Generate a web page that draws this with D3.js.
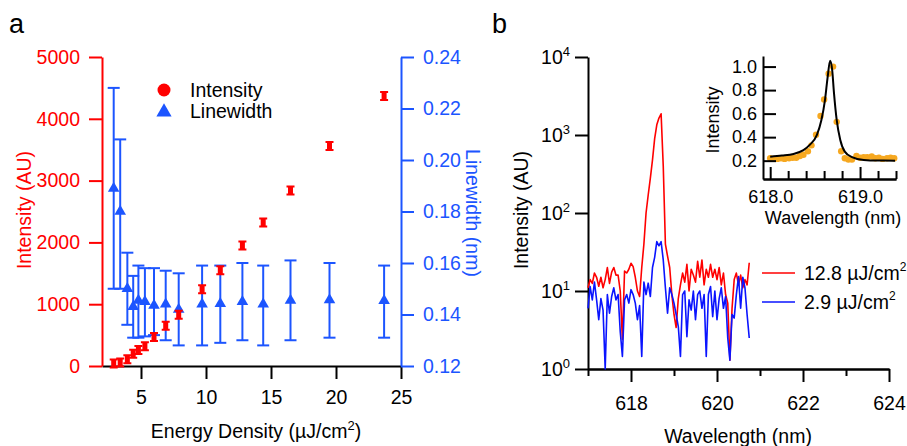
<!DOCTYPE html>
<html>
<head>
<meta charset="utf-8">
<script src="https://cdn.jsdelivr.net/npm/d3@7"></script>
<style>
  body { margin: 0; background: #fff; }
  svg { display: block; font-family: "Liberation Sans", Arial, sans-serif; }
</style>
</head>
<body>
<svg id="chart" width="907" height="446"></svg>
<script>
"use strict";

/* PANEL A DATA
 * =============================== */

var energy = [2.9, 3.4, 3.95, 4.4, 4.8, 5.3, 6.0, 6.9, 7.9, 9.7, 11.1, 12.8, 14.4, 16.5, 19.5, 23.7]
  , intensity = [40, 55, 110, 200, 260, 320, 470, 650, 830, 1240, 1550, 1950, 2320, 2840, 3560, 4370]
  , linewidth = [0.189, 0.180, 0.150, 0.143, 0.1455, 0.145, 0.1435, 0.144, 0.142, 0.144, 0.1442, 0.145, 0.144, 0.1455, 0.1457, 0.1454]
  , linewidthHigh = [0.228, 0.208, 0.164, 0.155, 0.159, 0.158, 0.158, 0.157, 0.156, 0.159, 0.159, 0.160, 0.159, 0.161, 0.160, 0.159]
  , linewidthLow = [0.150, 0.150, 0.136, 0.131, 0.131, 0.1315, 0.132, 0.130, 0.128, 0.128, 0.129, 0.130, 0.128, 0.130, 0.131, 0.131]
  , energyTicks = [5, 10, 15, 20, 25]
  , intensityTicks = [0, 1000, 2000, 3000, 4000, 5000]
  , linewidthTicks = [0.12, 0.14, 0.16, 0.18, 0.20, 0.22, 0.24]

/* PANEL B DATA
 * =============================== */

var wavelength = [617.00, 617.05, 617.10, 617.15, 617.20, 617.25, 617.30, 617.35, 617.40, 617.45,
                  617.50, 617.55, 617.60, 617.65, 617.70, 617.75, 617.80, 617.85, 617.90, 617.95,
                  618.00, 618.05, 618.10, 618.15, 618.20, 618.25, 618.30, 618.35, 618.40, 618.45,
                  618.50, 618.55, 618.60, 618.65, 618.70, 618.75, 618.80, 618.85, 618.90, 618.95,
                  619.00, 619.05, 619.10, 619.15, 619.20, 619.25, 619.30, 619.35, 619.40, 619.45,
                  619.50, 619.55, 619.60, 619.65, 619.70, 619.75, 619.80, 619.85, 619.90, 619.95,
                  620.00, 620.05, 620.10, 620.15, 620.20, 620.25, 620.30, 620.35, 620.40, 620.45,
                  620.50, 620.55, 620.60, 620.65, 620.70, 620.75]
  , spectrumHigh = [11, 14, 12.5, 17, 15, 11.5, 15, 11, 14, 20,
                    12.5, 17.5, 20, 16, 16, 10, 2.4, 18, 17, 19,
                    22.7, 20.5, 15, 10, 8.5, 20, 40, 100, 170, 280,
                    480, 900, 1350, 1650, 1870, 400, 40, 28, 20, 9,
                    5, 3.4, 8, 12, 17, 13, 22, 10, 19, 16,
                    13, 24, 15, 25, 12, 19, 15, 22, 15, 19,
                    14, 20, 12, 17, 9, 7, 1.3, 6, 14, 17,
                    12, 16, 11, 14, 12, 23]
  , spectrumLow = [6, 11.4, 7.7, 13, 7.7, 4.3, 8, 5.7, 1.0, 9,
                   5.2, 8.5, 11, 7.7, 9, 3, 1.45, 7.7, 9, 7,
                   10.4, 9, 7, 4.3, 6.5, 1.45, 13, 9, 12.6, 8.5,
                   20, 27, 43, 38, 43, 25, 11, 5.2, 11, 9,
                   7, 5, 3.5, 1.45, 9, 10, 2.6, 7.7, 5.7, 10,
                   4.3, 9, 10, 6, 9, 1.45, 9, 11.4, 4.7, 10,
                   4.3, 8, 11, 6, 8.5, 2.5, 1.3, 5, 4.5, 9,
                   15.3, 6, 15, 11, 5, 2.5]
  , wavelengthTicks = [618, 620, 622, 624]
  , wavelengthMinor = [617, 619, 621, 623]
  , logTicks = [1, 10, 100, 1000, 10000]

/* INSET DATA
 * =============================== */

var insetWl = [618.00, 618.04, 618.08, 618.12, 618.16, 618.21, 618.25, 618.29, 618.33, 618.37,
               618.42, 618.46, 618.51, 618.56, 618.60, 618.65, 618.70, 618.74, 618.79, 618.83,
               618.87, 618.91, 618.96, 619.00, 619.04, 619.08, 619.13, 619.17, 619.21, 619.25,
               619.30, 619.34, 619.38]
  , insetI = [0.22, 0.215, 0.215, 0.22, 0.215, 0.22, 0.225, 0.225, 0.24, 0.25,
              0.28, 0.33, 0.42, 0.58, 0.72, 0.94, 1.00, 0.53, 0.28, 0.22,
              0.21, 0.21, 0.24, 0.225, 0.23, 0.23, 0.235, 0.22, 0.225, 0.215,
              0.22, 0.225, 0.22]
  , fitWl = [618.00, 618.13, 618.26, 618.37, 618.44, 618.52, 618.57, 618.61, 618.64, 618.667,
             618.69, 618.71, 618.74, 618.78, 618.83, 618.91, 619.04, 619.20, 619.39]
  , fitI = [0.234, 0.243, 0.257, 0.29, 0.334, 0.42, 0.546, 0.717, 0.915, 1.05,
            0.97, 0.774, 0.546, 0.376, 0.277, 0.23, 0.206, 0.201, 0.2]
  , insetYTicks = [0.2, 0.4, 0.6, 0.8, 1.0]
  , insetXTicks = [618.0, 619.0]
  , insetXMinor = [618.2, 618.4, 618.6, 618.8, 619.2, 619.4]

var RED = "#ff0000"
  , BLUE_A = "#1c55ff"
  , BLUE_B = "#0a14ff"
  , ORANGE = "#f6a820"
  , FONT = "19.5px"
  , FONT_INSET = "18px"

var svg = d3.select("#chart")

// common axis look
function styleAxis(g, color, size) {
  g.attr("font-family", null).attr("font-size", size || FONT)
  g.select(".domain").attr("stroke", color).attr("stroke-width", 2)
  g.selectAll(".tick line").attr("stroke", color).attr("stroke-width", 2)
  g.selectAll(".tick text").attr("fill", color)
  return g
}

function addTitle(x, y, rotate, color, text, size, sup, tail) {
  var t = svg.append("text")
    .attr("transform", "translate(" + x + "," + y + ")" + (rotate ? " rotate(" + rotate + ")" : ""))
    .attr("text-anchor", "middle")
    .attr("font-size", size || FONT)
    .attr("fill", color)
    .text(text)
  if (sup) {
    t.append("tspan").attr("dy", -8).attr("font-size", "13px").text(sup)
    t.append("tspan").attr("dy", 8).text(tail)
  }
  return t
}

/* PANEL A
 * =============================== */

var xA = d3.scaleLinear().domain([2, 25]).range([102, 401])
  , yInt = d3.scaleLinear().domain([0, 5000]).range([366, 57])
  , yLw = d3.scaleLinear().domain([0.12, 0.24]).range([366, 57])

svg.append("text").attr("x", 9).attr("y", 33).attr("font-size", "27px").text("a")

styleAxis(svg.append("g")
    .attr("transform", "translate(0," + yInt(0) + ")")
    .call(d3.axisBottom(xA).tickValues(energyTicks).tickSize(13).tickSizeOuter(0).tickPadding(11)
      .tickFormat(d3.format("d")))
  , "#000")

styleAxis(svg.append("g")
    .attr("transform", "translate(" + xA(2) + ",0)")
    .call(d3.axisLeft(yInt).tickValues(intensityTicks).tickSize(13).tickSizeOuter(0).tickPadding(9)
      .tickFormat(d3.format("d")))
  , RED)

styleAxis(svg.append("g")
    .attr("transform", "translate(" + xA(25) + ",0)")
    .call(d3.axisRight(yLw).tickValues(linewidthTicks).tickSize(13).tickSizeOuter(0).tickPadding(9)
      .tickFormat(d3.format(".2f")))
  , BLUE_A)

addTitle(31, 210, -90, RED, "Intensity (AU)")
addTitle(466, 213, 90, BLUE_A, "Linewidth (nm)")
addTitle(256, 438, 0, "#000", "Energy Density (\u00b5J/cm", FONT, "2", ")")

// linewidth error bars + triangles
var lwData = energy.map(function (e, i) {
  return {e: e, v: linewidth[i], hi: linewidthHigh[i], lo: linewidthLow[i]}
})

var lw = svg.append("g")
  .attr("stroke", BLUE_A)
  .attr("stroke-width", 2)
  .selectAll("g")
    .data(lwData)
  .enter().append("g")

lw.append("line")
  .attr("x1", function (d) { return xA(d.e) })
  .attr("x2", function (d) { return xA(d.e) })
  .attr("y1", function (d) { return yLw(d.hi) })
  .attr("y2", function (d) { return yLw(d.lo) })

lw.selectAll(".cap")
    .data(function (d) { return [{e: d.e, y: d.hi}, {e: d.e, y: d.lo}] })
  .enter().append("line")
    .attr("class", "cap")
    .attr("x1", function (d) { return xA(d.e) - 6 })
    .attr("x2", function (d) { return xA(d.e) + 6 })
    .attr("y1", function (d) { return yLw(d.y) })
    .attr("y2", function (d) { return yLw(d.y) })

lw.append("path")
  .attr("d", d3.symbol(d3.symbolTriangle).size(58))
  .attr("transform", function (d) { return "translate(" + xA(d.e) + "," + yLw(d.v) + ")" })
  .attr("fill", BLUE_A)
  .attr("stroke", "none")

// intensity markers (with small error bars)
var it = svg.append("g")
  .selectAll("g")
    .data(energy.map(function (e, i) { return {e: e, v: intensity[i]} }))
  .enter().append("g")
    .attr("transform", function (d) { return "translate(" + xA(d.e) + "," + yInt(d.v) + ")" })

it.append("rect")
  .attr("x", -2.5).attr("y", -4).attr("width", 5).attr("height", 8)
  .attr("fill", RED)
it.append("path")
  .attr("d", "M-4,-4H4M-4,4H4")
  .attr("stroke", RED)
  .attr("stroke-width", 2)

// legend
svg.append("circle").attr("cx", 164).attr("cy", 90).attr("r", 6.5).attr("fill", RED)
svg.append("path")
  .attr("d", d3.symbol(d3.symbolTriangle).size(100))
  .attr("transform", "translate(164,112)")
  .attr("fill", BLUE_A)
svg.append("text").attr("x", 190).attr("y", 90).attr("dy", "0.35em").attr("font-size", FONT).text("Intensity")
svg.append("text").attr("x", 190).attr("y", 111).attr("dy", "0.35em").attr("font-size", FONT).text("Linewidth")

/* PANEL B
 * =============================== */

var xB = d3.scaleLinear().domain([617, 624]).range([588, 889])
  , yB = d3.scaleLog().domain([1, 10000]).range([369, 57])

svg.append("text").attr("x", 492).attr("y", 33).attr("font-size", "27px").text("b")

styleAxis(svg.append("g")
    .attr("transform", "translate(0," + yB(1) + ")")
    .call(d3.axisBottom(xB).tickValues(wavelengthMinor).tickSize(7).tickSizeOuter(0).tickFormat(""))
  , "#000")

styleAxis(svg.append("g")
    .attr("transform", "translate(0," + yB(1) + ")")
    .call(d3.axisBottom(xB).tickValues(wavelengthTicks).tickSize(13).tickSizeOuter(0).tickPadding(14)
      .tickFormat(d3.format("d")))
  , "#000")

var logAxis = styleAxis(svg.append("g")
    .attr("transform", "translate(" + xB(617) + ",0)")
    .call(d3.axisLeft(yB).tickValues(logTicks).tickSize(13).tickSizeOuter(0).tickPadding(5).tickFormat(""))
  , "#000")

logAxis.selectAll(".tick text")
  .text("10")
  .append("tspan")
    .attr("dy", -8)
    .attr("font-size", "13px")
    .text(function (d) { return Math.round(Math.log10(d)) })

addTitle(528, 210, -90, "#000", "Intensity (AU)")
addTitle(738, 443, 0, "#000", "Wavelength (nm)")

var spectrum = d3.line()
  .x(function (d) { return xB(d[0]) })
  .y(function (d) { return yB(d[1]) })

svg.append("path")
  .datum(wavelength.map(function (w, i) { return [w, spectrumHigh[i]] }))
  .attr("d", spectrum)
  .attr("fill", "none")
  .attr("stroke", RED)
  .attr("stroke-width", 1.6)
  .attr("stroke-linejoin", "round")

svg.append("path")
  .datum(wavelength.map(function (w, i) { return [w, spectrumLow[i]] }))
  .attr("d", spectrum)
  .attr("fill", "none")
  .attr("stroke", BLUE_B)
  .attr("stroke-width", 1.6)
  .attr("stroke-linejoin", "round")

// legend b
var legendB = [
  {color: RED, label: "12.8 \u00b5J/cm", y: 273}
, {color: BLUE_B, label: "2.9 \u00b5J/cm", y: 302}
]

legendB.forEach(function (d) {
  svg.append("line")
    .attr("x1", 762).attr("x2", 795).attr("y1", d.y).attr("y2", d.y)
    .attr("stroke", d.color).attr("stroke-width", 1.6)
  var t = svg.append("text")
    .attr("x", 804).attr("y", d.y).attr("dy", "0.35em")
    .attr("font-size", FONT)
    .text(d.label)
  t.append("tspan").attr("dy", -9).attr("font-size", "12px").text("2")
})

/* INSET
 * =============================== */

var xI = d3.scaleLinear().domain([617.92, 619.4]).range([763, 896])
  , yI = d3.scaleLinear().domain([0.044, 1.09]).range([179, 56])

svg.append("g")
  .selectAll("circle")
    .data(insetWl.map(function (w, i) { return [w, insetI[i]] }))
  .enter().append("circle")
    .attr("cx", function (d) { return xI(d[0]) })
    .attr("cy", function (d) { return yI(d[1]) })
    .attr("r", 3.2)
    .attr("fill", ORANGE)

svg.append("path")
  .datum(fitWl.map(function (w, i) { return [w, fitI[i]] }))
  .attr("d", d3.line()
    .x(function (d) { return xI(d[0]) })
    .y(function (d) { return yI(d[1]) })
    .curve(d3.curveMonotoneX))
  .attr("fill", "none")
  .attr("stroke", "#000")
  .attr("stroke-width", 2)

styleAxis(svg.append("g")
    .attr("transform", "translate(0,179)")
    .call(d3.axisBottom(xI).tickValues(insetXMinor).tickSize(-8).tickSizeOuter(0).tickFormat(""))
  , "#000", FONT_INSET)

styleAxis(svg.append("g")
    .attr("transform", "translate(0,179)")
    .call(d3.axisBottom(xI).tickValues(insetXTicks).tickSize(-12).tickSizeOuter(0).tickPadding(11)
      .tickFormat(d3.format(".1f")))
  , "#000", FONT_INSET)

styleAxis(svg.append("g")
    .attr("transform", "translate(763,0)")
    .call(d3.axisLeft(yI).tickValues(insetYTicks).tickSize(-13).tickSizeOuter(0).tickPadding(6)
      .tickFormat(d3.format(".1f")))
  , "#000", FONT_INSET)

addTitle(719, 120, -90, "#000", "Intensity", FONT_INSET)
addTitle(833, 224, 0, "#000", "Wavelength (nm)", FONT_INSET)
</script>
</body>
</html>
